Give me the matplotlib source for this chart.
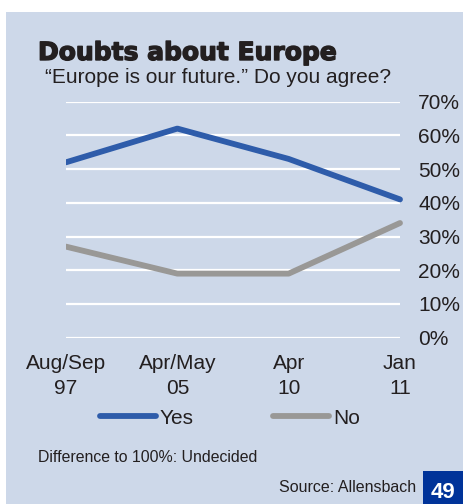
import matplotlib
matplotlib.use("Agg")
import matplotlib.pyplot as plt
import matplotlib.patheffects as pe
from matplotlib.patches import Rectangle
from matplotlib.lines import Line2D

# Survey results (percent)
periods = ["Aug/Sep\n97", "Apr/May\n05", "Apr\n10", "Jan\n11"]
yes_share = [52, 62, 53, 41]
no_share = [27, 19, 19, 34]
y_ticks = [0, 10, 20, 30, 40, 50, 60, 70]
y_tick_labels = [f"{v}%" for v in y_ticks]

BG = "#cdd8e9"
BLUE = "#2e5caa"
GREY = "#999896"
TEXT = "#231f20"
FONT = "Liberation Sans"

W, H = 463, 504
fig = plt.figure(figsize=(W / 100, H / 100), dpi=100)
fig.patch.set_facecolor("white")

# light blue panel
fig.add_artist(Rectangle((6 / W, 0), 1 - 6 / W, 1 - 12 / H,
                         transform=fig.transFigure, facecolor=BG,
                         edgecolor="none", zorder=0))

left_px, right_px = 66, 400
top_px, bot_px = 101.6, 337.7
xmax = 3.05
ax_right = left_px + (right_px - left_px) * xmax / 3
ax = fig.add_axes([left_px / W, 1 - bot_px / H,
                   (ax_right - left_px) / W, (bot_px - top_px) / H])
ax.set_facecolor("none")
for s in ax.spines.values():
    s.set_visible(False)

x = list(range(len(periods)))
ax.hlines(y_ticks, 0, 3, colors="white", linewidth=1.6, zorder=1)
ax.plot(x, yes_share, color=BLUE, linewidth=4.2, solid_capstyle="round",
        solid_joinstyle="round", zorder=3)
ax.plot(x, no_share, color=GREY, linewidth=4.2, solid_capstyle="round",
        solid_joinstyle="round", zorder=3)
ax.set_xlim(0, xmax)
ax.set_ylim(0, 70)

ax.yaxis.tick_right()
ax.set_yticks(y_ticks)
ax.set_yticklabels(y_tick_labels, fontfamily=FONT, fontsize=15, color=TEXT)
ax.set_xticks(x)
ax.set_xticklabels(periods, fontfamily=FONT, fontsize=15, color=TEXT,
                   linespacing=1.4)
ax.tick_params(axis="y", length=0, pad=9)
ax.tick_params(axis="x", length=0, pad=12)

# legend
handles = [Line2D([], [], color=BLUE, linewidth=4.2, solid_capstyle="round"),
           Line2D([], [], color=GREY, linewidth=4.2, solid_capstyle="round")]
fig.legend(handles, ["Yes", "No"], loc="center",
           bbox_to_anchor=(230 / W, 1 - 418 / H), ncol=2, frameon=False,
           handlelength=2.7, handletextpad=0.2, columnspacing=3.8,
           prop={"family": FONT, "size": 15}, labelcolor=TEXT)

# titles and notes
fig.text(38 / W, 1 - 60 / H, "Doubts about Europe", fontfamily="DejaVu Sans",
         fontweight="heavy", fontsize=18, color=TEXT, va="baseline",
         path_effects=[pe.withStroke(linewidth=1.0, foreground=TEXT)])
fig.text(45 / W, 1 - 83 / H, "\u201cEurope is our future.\u201d Do you agree?",
         fontfamily=FONT, fontsize=15, color=TEXT, va="baseline")
fig.text(38 / W, 1 - 457 / H, "Difference to 100%: Undecided",
         fontfamily=FONT, fontsize=11.4, color=TEXT, va="center")
fig.text(416 / W, 1 - 487 / H, "Source: Allensbach",
         fontfamily=FONT, fontsize=11.5, color=TEXT, va="center", ha="right")

# page number badge
fig.add_artist(Rectangle((423 / W, 0), 1 - 423 / W, 33 / H,
                         transform=fig.transFigure, facecolor="#003399",
                         edgecolor="none", zorder=2))
fig.text(443 / W, 1 - 492 / H, "49", fontfamily=FONT, fontweight="bold",
         fontsize=16, color="white", va="center", ha="center", zorder=3)

fig.savefig("out.png", dpi=100, facecolor=fig.get_facecolor())
